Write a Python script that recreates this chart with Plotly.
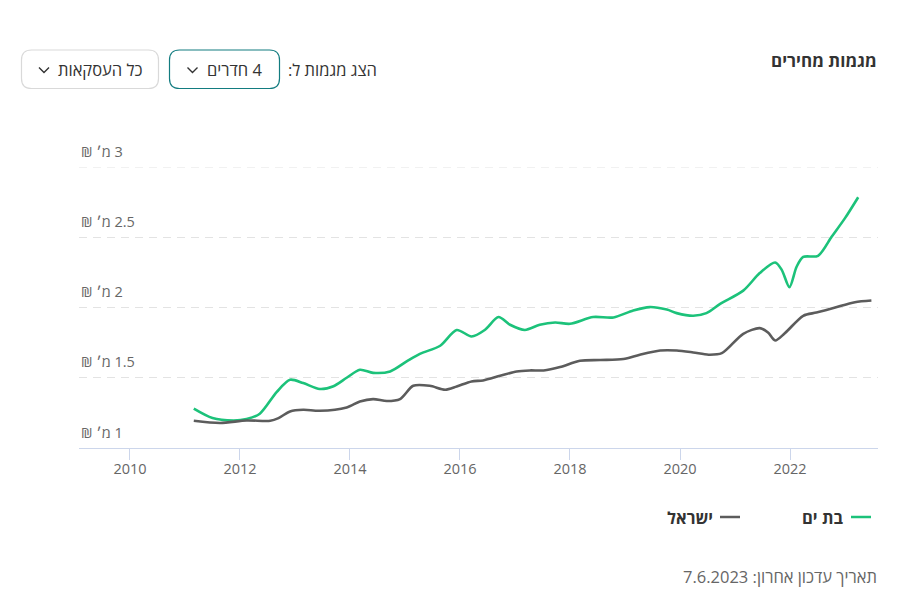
import plotly.graph_objects as go

# ---------------- data ----------------
bat_yam_x = [2011.16, 2011.50, 2011.88, 2012.12, 2012.36, 2012.67, 2012.91, 2013.15, 2013.45, 2013.70,
             2013.94, 2014.18, 2014.42, 2014.73, 2015.03, 2015.27, 2015.64, 2015.94, 2016.21, 2016.45,
             2016.70, 2016.91, 2017.18, 2017.45, 2017.73, 2018.00, 2018.42, 2018.79, 2019.15, 2019.45,
             2019.76, 2019.94, 2020.24, 2020.48, 2020.73, 2021.15, 2021.45, 2021.73, 2021.85, 2021.99,
             2022.12, 2022.24, 2022.51, 2022.76, 2023.00, 2023.24]
bat_yam_y = [1.280, 1.213, 1.196, 1.206, 1.244, 1.400, 1.486, 1.462, 1.420, 1.440,
             1.500, 1.557, 1.535, 1.545, 1.616, 1.670, 1.728, 1.840, 1.794, 1.840,
             1.932, 1.877, 1.840, 1.877, 1.893, 1.884, 1.932, 1.929, 1.979, 2.003,
             1.985, 1.960, 1.941, 1.960, 2.026, 2.120, 2.245, 2.320, 2.268, 2.145,
             2.290, 2.360, 2.368, 2.505, 2.636, 2.785]

israel_x = [2011.16, 2011.64, 2012.12, 2012.55, 2012.70, 2012.91, 2013.15, 2013.45, 2013.94, 2014.18,
            2014.42, 2014.67, 2014.91, 2015.15, 2015.45, 2015.73, 2015.94, 2016.21, 2016.42, 2016.73,
            2017.03, 2017.27, 2017.52, 2017.82, 2018.18, 2018.55, 2018.97, 2019.27, 2019.64, 2019.94,
            2020.24, 2020.52, 2020.76, 2021.15, 2021.45, 2021.60, 2021.73, 2021.91, 2022.24, 2022.48,
            2022.79, 2023.18, 2023.48]
israel_y = [1.194, 1.178, 1.196, 1.194, 1.213, 1.260, 1.272, 1.265, 1.289, 1.331,
            1.348, 1.334, 1.348, 1.443, 1.443, 1.415, 1.438, 1.474, 1.481, 1.514,
            1.545, 1.552, 1.552, 1.576, 1.621, 1.626, 1.633, 1.664, 1.694, 1.694,
            1.680, 1.664, 1.675, 1.813, 1.853, 1.822, 1.765, 1.818, 1.941, 1.964,
            1.996, 2.038, 2.050]

series_names = ["בת ים", "ישראל"]
x_tick_vals = [2010, 2012, 2014, 2016, 2018, 2020, 2022]
y_tick_vals = [1, 1.5, 2, 2.5, 3]
y_tick_labels = ["1 מ׳ ₪", "1.5 מ׳ ₪", "2 מ׳ ₪", "2.5 מ׳ ₪", "3 מ׳ ₪"]

title_text = "מגמות מחירים"
show_label = "הצג מגמות ל:"
rooms_label = "4 חדרים"
deals_label = "כל העסקאות"
updated_text = "תאריך עדכון אחרון: 7.6.2023"

# ---------------- layout helpers ----------------
OFF = 8  # default page body margin
W, H = 906 - 2 * OFF, 601 - 2 * OFF
ML, MT = 79 - OFF, 167 - OFF
PW, PH = 799, 281
MR = W - ML - PW
MB = H - MT - PH
FONT = "Open Sans, Liberation Sans, DejaVu Sans, sans-serif"
GREEN = "#1cc27a"
GRAY = "#5c5c5c"
GRID = "#e3e3e3"


def rtl(s):
    return "\u202B" + s + "\u202C"


def fx(px):
    return (px - OFF - ML) / PW


def fy(py):
    return (MT + PH - (py - OFF)) / PH


def rounded_rect(x0, y0, x1, y1, r):
    pts = [
        f"M {fx(x0 + r)} {fy(y0)}",
        f"L {fx(x1 - r)} {fy(y0)}",
        f"Q {fx(x1)} {fy(y0)} {fx(x1)} {fy(y0 + r)}",
        f"L {fx(x1)} {fy(y1 - r)}",
        f"Q {fx(x1)} {fy(y1)} {fx(x1 - r)} {fy(y1)}",
        f"L {fx(x0 + r)} {fy(y1)}",
        f"Q {fx(x0)} {fy(y1)} {fx(x0)} {fy(y1 - r)}",
        f"L {fx(x0)} {fy(y0 + r)}",
        f"Q {fx(x0)} {fy(y0)} {fx(x0 + r)} {fy(y0)}",
        "Z",
    ]
    return " ".join(pts)


def chevron(cx, cy):
    return f"M {fx(cx - 5)} {fy(cy - 2.5)} L {fx(cx)} {fy(cy + 2.5)} L {fx(cx + 5)} {fy(cy - 2.5)}"


fig = go.Figure()
fig.add_trace(go.Scatter(x=bat_yam_x, y=bat_yam_y, mode="lines", name=series_names[0],
                         line=dict(color=GREEN, width=2.6, shape="spline", smoothing=0.8),
                         showlegend=False))
fig.add_trace(go.Scatter(x=israel_x, y=israel_y, mode="lines", name=series_names[1],
                         line=dict(color=GRAY, width=2.6, shape="spline", smoothing=0.8),
                         showlegend=False))

shapes = [
    # top gridline (at the edge of the plot area)
    dict(type="line", xref="paper", yref="y", x0=0, x1=1, y0=y_tick_vals[-1], y1=y_tick_vals[-1],
         line=dict(color=GRID, width=1, dash="8px,6px"), layer="below"),
    dict(type="path", xref="paper", yref="paper", path=rounded_rect(169.5, 50, 279.5, 88.5, 10),
         line=dict(color="#137c80", width=1.2), fillcolor="white"),
    dict(type="path", xref="paper", yref="paper", path=rounded_rect(21.5, 50, 158.5, 88.5, 10),
         line=dict(color="#d9d9d9", width=1.2), fillcolor="white"),
    dict(type="path", xref="paper", yref="paper", path=chevron(192.5, 70),
         line=dict(color="#333333", width=1.4)),
    dict(type="path", xref="paper", yref="paper", path=chevron(44, 70),
         line=dict(color="#333333", width=1.4)),
    # legend swatches
    dict(type="line", xref="paper", yref="paper", x0=fx(851), x1=fx(871), y0=fy(517), y1=fy(517),
         line=dict(color=GREEN, width=2.5)),
    dict(type="line", xref="paper", yref="paper", x0=fx(720), x1=fx(740), y0=fy(517), y1=fy(517),
         line=dict(color=GRAY, width=2.5)),
]

annotations = [
    dict(text=rtl("<b>" + title_text + "</b>"), x=fx(879), y=fy(60), xanchor="right", yanchor="middle",
         font=dict(size=17, color="#333333", family=FONT)),
    dict(text=rtl(show_label), x=fx(379), y=fy(70), xanchor="right", yanchor="middle",
         font=dict(size=16.5, color="#333333", family=FONT)),
    dict(text=rtl(rooms_label), x=fx(264), y=fy(70), xanchor="right", yanchor="middle",
         font=dict(size=16.5, color="#333333", family=FONT)),
    dict(text=rtl(deals_label), x=fx(144), y=fy(70), xanchor="right", yanchor="middle",
         font=dict(size=16.5, color="#333333", family=FONT)),
    dict(text=rtl("<b>" + series_names[0] + "</b>"), x=fx(845), y=fy(517), xanchor="right", yanchor="middle",
         font=dict(size=16.5, color="#333333", family=FONT)),
    dict(text=rtl("<b>" + series_names[1] + "</b>"), x=fx(715), y=fy(517), xanchor="right", yanchor="middle",
         font=dict(size=16.5, color="#333333", family=FONT)),
    dict(text=rtl(updated_text), x=fx(879), y=fy(576), xanchor="right", yanchor="middle",
         font=dict(size=16.5, color="#666666", family=FONT)),
]

for v, lab in zip(y_tick_vals, y_tick_labels):
    annotations.append(dict(text=rtl(lab), xref="paper", yref="y", x=fx(79), y=v,
                            xanchor="left", yanchor="middle", yshift=16,
                            font=dict(size=14.5, color="#666666", family=FONT)))

for a in annotations:
    a.setdefault("xref", "paper")
    a.setdefault("yref", "paper")
    a["showarrow"] = False

fig.update_layout(
    width=W, height=H,
    margin=dict(l=ML, r=MR, t=MT, b=MB, pad=0),
    paper_bgcolor="white", plot_bgcolor="white",
    font=dict(family=FONT, color="#666666"),
    showlegend=False,
    shapes=shapes,
    annotations=annotations,
    xaxis=dict(range=[2009.073, 2023.6], tickvals=x_tick_vals,
               ticktext=[str(v) for v in x_tick_vals],
               showgrid=False, zeroline=False, showline=True, linecolor="#ccd6eb", linewidth=1,
               ticks="outside", ticklen=11, tickcolor="#ccd6eb", tickwidth=1, ticklabelstandoff=-3,
               tickfont=dict(size=14.5, color="#666666", family=FONT), fixedrange=True),
    yaxis=dict(range=[1, 3], tickvals=y_tick_vals, showticklabels=False,
               showgrid=True, gridcolor=GRID, griddash="8px,6px", gridwidth=1,
               zeroline=False, showline=False, fixedrange=True),
)

fig.write_html("out.html")
